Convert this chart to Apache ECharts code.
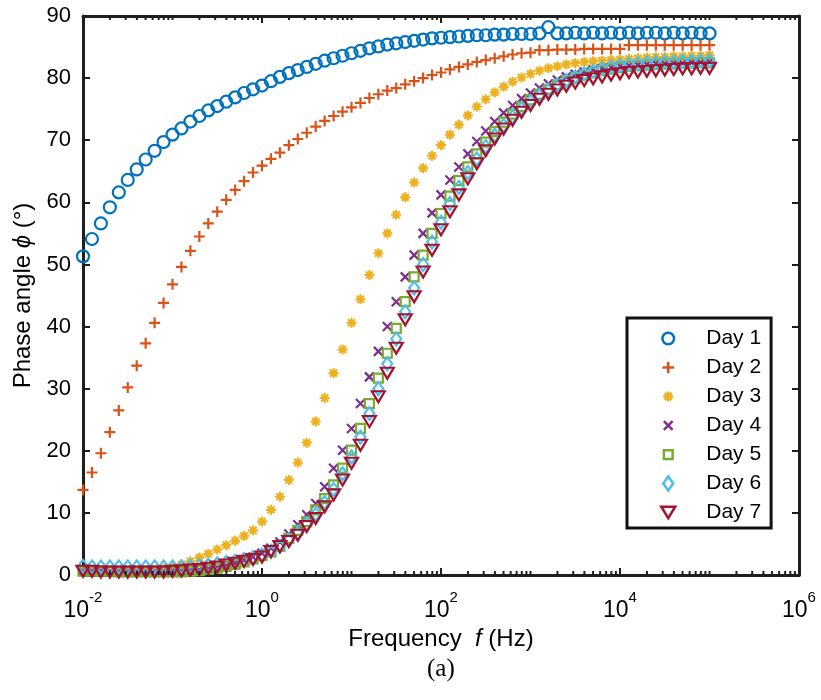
<!DOCTYPE html>
<html>
<head>
<meta charset="utf-8">
<script src="https://cdn.jsdelivr.net/npm/echarts@6/dist/echarts.min.js"></script>
<style>html,body{margin:0;padding:0;background:#fff;}#c{width:821px;height:700px;}</style>
</head>
<body>
<div id="c"></div>
<script>
// Frequencies (Hz), 10 points per decade
const freqs = [0.01,0.01259,0.01585,0.01995,0.02512,0.03162,0.03981,0.05012,0.0631,0.07943,
0.1,0.1259,0.1585,0.1995,0.2512,0.3162,0.3981,0.5012,0.631,0.7943,
1,1.259,1.585,1.995,2.512,3.162,3.981,5.012,6.31,7.943,
10,12.59,15.85,19.95,25.12,31.62,39.81,50.12,63.1,79.43,
100,125.9,158.5,199.5,251.2,316.2,398.1,501.2,631,794.3,
1000,1259,1585,1995,2512,3162,3981,5012,6310,7943,
10000,12590,15850,19950,25120,31620,39810,50120,63100,79430,
100000];

const seriesNames = ['Day 1','Day 2','Day 3','Day 4','Day 5','Day 6','Day 7'];

const day1 = [51.3,54.1,56.6,59.2,61.6,63.6,65.3,66.9,68.3,69.7,
70.9,71.9,73.0,73.9,74.8,75.5,76.2,76.9,77.6,78.2,
78.8,79.5,80.2,80.8,81.3,81.8,82.3,82.8,83.2,83.6,
84.0,84.4,84.8,85.1,85.4,85.6,85.8,86.0,86.2,86.4,
86.5,86.6,86.7,86.8,86.9,86.9,87.0,87.0,87.1,87.1,
87.1,87.2,88.2,87.2,87.2,87.3,87.2,87.3,87.2,87.3,
87.2,87.3,87.2,87.3,87.3,87.2,87.3,87.2,87.3,87.2,
87.2];
const day2 = [13.7,16.5,19.6,23.0,26.5,30.2,33.7,37.3,40.6,43.8,
46.8,49.6,52.2,54.5,56.6,58.5,60.4,62.0,63.4,64.8,
65.9,67.0,68.0,69.2,70.2,71.2,72.2,73.1,73.9,74.6,
75.3,76.0,76.8,77.4,78.0,78.4,79.0,79.5,80.0,80.5,
80.9,81.4,81.8,82.2,82.6,82.9,83.2,83.5,83.8,84.0,
84.1,84.5,84.5,84.6,84.6,84.6,84.7,84.7,84.7,84.7,
84.7,85.3,85.3,85.3,85.3,85.3,85.3,85.3,85.3,85.3,
85.3];
const day3 = [0.5,0.5,0.5,0.5,0.5,0.6,0.6,0.7,0.8,1.0,
1.3,1.7,2.2,2.8,3.4,4.1,4.8,5.5,6.3,7.2,
8.6,10.5,12.6,15.3,18.1,21.3,24.7,28.5,32.5,36.3,
40.6,44.4,48.3,51.8,55.0,58.0,60.8,63.2,65.5,67.5,
69.2,70.9,72.5,74.0,75.4,76.6,77.7,78.6,79.4,80.1,
80.7,81.2,81.6,81.9,82.2,82.4,82.6,82.7,82.8,82.9,
83.0,83.1,83.2,83.3,83.4,83.4,83.5,83.5,83.6,83.6,
83.7];
const day4 = [0.6,0.6,0.6,0.5,0.5,0.5,0.5,0.5,0.5,0.5,
0.6,0.6,0.7,0.8,1.0,1.2,1.5,1.9,2.4,2.9,
3.5,4.3,5.3,6.6,8.1,9.7,11.5,14.2,17.2,20.1,
23.6,27.6,31.9,36.0,40.0,44.0,48.0,51.5,55.0,58.3,
61.2,63.6,65.7,67.8,69.8,71.5,73.0,74.4,75.6,76.7,
77.6,78.4,79.1,79.7,80.2,80.6,81.0,81.3,81.5,81.7,
81.9,82.0,82.1,82.2,82.3,82.3,82.4,82.4,82.5,82.5,
82.6];
const day5 = [0.6,0.6,0.6,0.6,0.5,0.5,0.5,0.5,0.5,0.5,
0.5,0.5,0.6,0.7,0.9,1.1,1.4,1.7,2.1,2.6,
3.1,3.7,4.6,5.9,7.2,8.6,10.5,12.3,14.5,17.2,
20.1,23.6,27.6,31.7,35.7,39.7,44.0,48.0,51.5,55.0,
58.2,61.0,63.5,65.7,67.8,69.7,71.4,72.9,74.2,75.4,
76.5,77.4,78.2,78.9,79.5,80.0,80.5,80.9,81.2,81.5,
81.7,81.9,82.0,82.1,82.2,82.3,82.3,82.4,82.4,82.5,
82.5];
const day6 = [1.4,1.3,1.3,1.3,1.3,1.3,1.3,1.3,1.3,1.3,
1.3,1.3,1.4,1.5,1.6,1.8,2.0,2.2,2.5,2.8,
3.2,3.8,4.6,5.6,6.8,8.2,9.8,11.7,13.8,16.3,
19.0,22.2,26.0,30.0,34.0,38.0,42.4,46.2,50.0,53.6,
56.8,59.8,62.4,64.8,67.0,69.0,70.8,72.4,73.8,75.1,
76.2,77.2,78.1,78.9,79.6,80.2,80.7,81.1,81.5,81.8,
82.0,82.2,82.3,82.4,82.5,82.6,82.6,82.7,82.7,82.8,
82.8];
const day7 = [0.6,0.6,0.5,0.5,0.5,0.5,0.5,0.5,0.5,0.5,
0.6,0.7,0.8,0.9,1.1,1.3,1.6,1.9,2.2,2.5,
2.9,3.8,4.6,5.4,6.4,7.8,9.1,11.0,12.9,15.3,
18.0,20.9,24.7,28.7,32.5,36.5,41.1,44.8,48.8,52.3,
55.6,58.5,61.2,63.8,66.2,68.3,70.2,71.8,73.2,74.5,
75.6,76.6,77.4,78.1,78.7,79.2,79.6,79.9,80.2,80.5,
80.7,80.9,81.0,81.1,81.2,81.3,81.4,81.5,81.5,81.6,
81.6];

const yTicks = [0,10,20,30,40,50,60,70,80,90];

const FONT = '"Liberation Sans", Arial, Helvetica, sans-serif';
const AX = '#1e1e1e';
const colors = ['#0072BD','#D95319','#EDB120','#7E2F8E','#77AC30','#4DBEEE','#A2142F'];
const symbols = [
  'circle',
  'path://M5,0L5,10M0,5L10,5',
  'path://M5,0L5,10M0,5L10,5M1.5,1.5L8.5,8.5M8.5,1.5L1.5,8.5',
  'path://M0,0L10,10M10,0L0,10',
  'path://M0,0L10,0L10,10L0,10Z',
  'diamond',
  'path://M0,0L10,0L5,8.66Z'
];
const sizes = [12, 11, 10, 9, 9, [10,13], [13,11]];
const legendIcons = [
  'path://M-1,-1M11,11M10,5A5,5,0,1,1,0,5A5,5,0,1,1,10,5Z',
  'path://M-1,-1M11,11M5,0L5,10M0,5L10,5',
  'path://M-2,-2M12,12M5,0L5,10M0,5L10,5M1.5,1.5L8.5,8.5M8.5,1.5L1.5,8.5',
  'path://M-3,-3M13,13M0,0L10,10M10,0L0,10',
  'path://M-3,-3M13,13M0,0L10,0L10,10L0,10Z',
  'path://M-0.5,0M10.5,0M5,0L10,7L5,14L0,7Z',
  'path://M0,-1M0,10M0,0L11,0L5.5,9Z'
];
const dataSets = [day1, day2, day3, day4, day5, day6, day7];

// minor log ticks (2..9 per decade, plus odd decades)
const minorTicks = [];
for (let e = -2; e < 6; e++) {
  for (let m = 1; m <= 9; m++) {
    if (m === 1 && e % 2 === 0) continue;
    minorTicks.push([m * Math.pow(10, e)]);
  }
}

const series = dataSets.map((d, i) => ({
  name: seriesNames[i],
  type: 'scatter',
  data: freqs.map((f, k) => [f, d[k]]),
  symbol: symbols[i],
  symbolSize: sizes[i],
  itemStyle: { color: 'rgba(0,0,0,0)', borderColor: colors[i], borderWidth: 2.2, opacity: 1 },
  emphasis: { disabled: true },
  z: 2 + i
}));

series.push({
  type: 'custom',
  name: 'minorTicks',
  data: minorTicks,
  silent: true,
  clip: false,
  z: 20,
  renderItem: function (params, api) {
    const f = api.value(0);
    const b = api.coord([f, 0]);
    const t = api.coord([f, 90]);
    const len = 4;
    const st = { stroke: AX, lineWidth: 2 };
    return { type: 'group', children: [
      { type: 'line', shape: { x1: b[0], y1: b[1], x2: b[0], y2: b[1] - len }, style: st },
      { type: 'line', shape: { x1: t[0], y1: t[1], x2: t[0], y2: t[1] + len }, style: st }
    ]};
  }
});

const chart = echarts.init(document.getElementById('c'), null, { renderer: 'canvas' });
chart.setOption({
  animation: false,
  backgroundColor: '#fff',
  grid: { left: 83, right: 22, top: 16, bottom: 125, containLabel: false },
  xAxis: [{
    type: 'log', logBase: 10, min: 0.01, max: 1e6, interval: 2,
    position: 'bottom',
    axisLine: { show: true, onZero: false, lineStyle: { color: AX, width: 3 } },
    axisTick: { show: true, inside: true, length: 7, lineStyle: { color: AX, width: 2 } },
    splitLine: { show: false },
    axisLabel: {
      margin: 15,
      formatter: function (v) {
        const e = Math.round(Math.log10(v));
        return '{b|10}{s|' + e + '}';
      },
      rich: {
        b: { fontFamily: FONT, fontSize: 23, color: '#000', lineHeight: 32, verticalAlign: 'bottom' },
        s: { fontFamily: FONT, fontSize: 15, color: '#000', lineHeight: 15, verticalAlign: 'top' }
      }
    },
    name: 'Frequency  {i|f} (Hz)',
    nameLocation: 'middle',
    nameGap: 46,
    nameTextStyle: {
      fontFamily: FONT, fontSize: 24, color: '#000',
      rich: { i: { fontFamily: FONT, fontSize: 24, fontStyle: 'italic', color: '#000' } }
    }
  }, {
    type: 'log', logBase: 10, min: 0.01, max: 1e6, interval: 2,
    position: 'top',
    axisLine: { show: true, onZero: false, lineStyle: { color: AX, width: 3 } },
    axisTick: { show: true, inside: true, length: 7, lineStyle: { color: AX, width: 2 } },
    axisLabel: { show: false },
    splitLine: { show: false }
  }],
  yAxis: [{
    type: 'value', min: yTicks[0], max: yTicks[yTicks.length - 1], interval: 10,
    position: 'left',
    axisLine: { show: true, onZero: false, lineStyle: { color: AX, width: 3 } },
    axisTick: { show: true, inside: true, length: 7, lineStyle: { color: AX, width: 2 } },
    splitLine: { show: false },
    axisLabel: { margin: 12, fontFamily: FONT, fontSize: 22, color: '#000' },
    name: 'Phase angle {i|ϕ} (°)',
    nameLocation: 'middle',
    nameGap: 43,
    nameTextStyle: {
      fontFamily: FONT, fontSize: 24, color: '#000',
      rich: { i: { fontFamily: FONT, fontSize: 24, fontStyle: 'italic', color: '#000' } }
    }
  }, {
    type: 'value', min: yTicks[0], max: yTicks[yTicks.length - 1], interval: 10,
    position: 'right',
    axisLine: { show: true, onZero: false, lineStyle: { color: AX, width: 3 } },
    axisTick: { show: true, inside: true, length: 7, lineStyle: { color: AX, width: 2 } },
    axisLabel: { show: false },
    splitLine: { show: false }
  }],
  legend: {
    data: seriesNames.map((n, i) => ({
      name: n, icon: legendIcons[i],
      itemStyle: { color: 'rgba(0,0,0,0)', borderColor: colors[i], borderWidth: 2.5 }
    })),
    orient: 'vertical',
    left: 627, top: 318,
    itemWidth: 66, itemHeight: 14, itemGap: 8,
    padding: [10, 10, 5, 33],
    borderColor: '#111', borderWidth: 3, backgroundColor: '#fff',
    selectedMode: false,
    textStyle: { fontFamily: FONT, fontSize: 21, color: '#000', lineHeight: 20 }
  },
  graphic: [{
    type: 'text', left: 427, top: 657,
    style: { text: '(a)', font: '25px "Liberation Serif", "Times New Roman", serif', fill: '#000' }
  }],
  series: series
});
</script>
</body>
</html>
